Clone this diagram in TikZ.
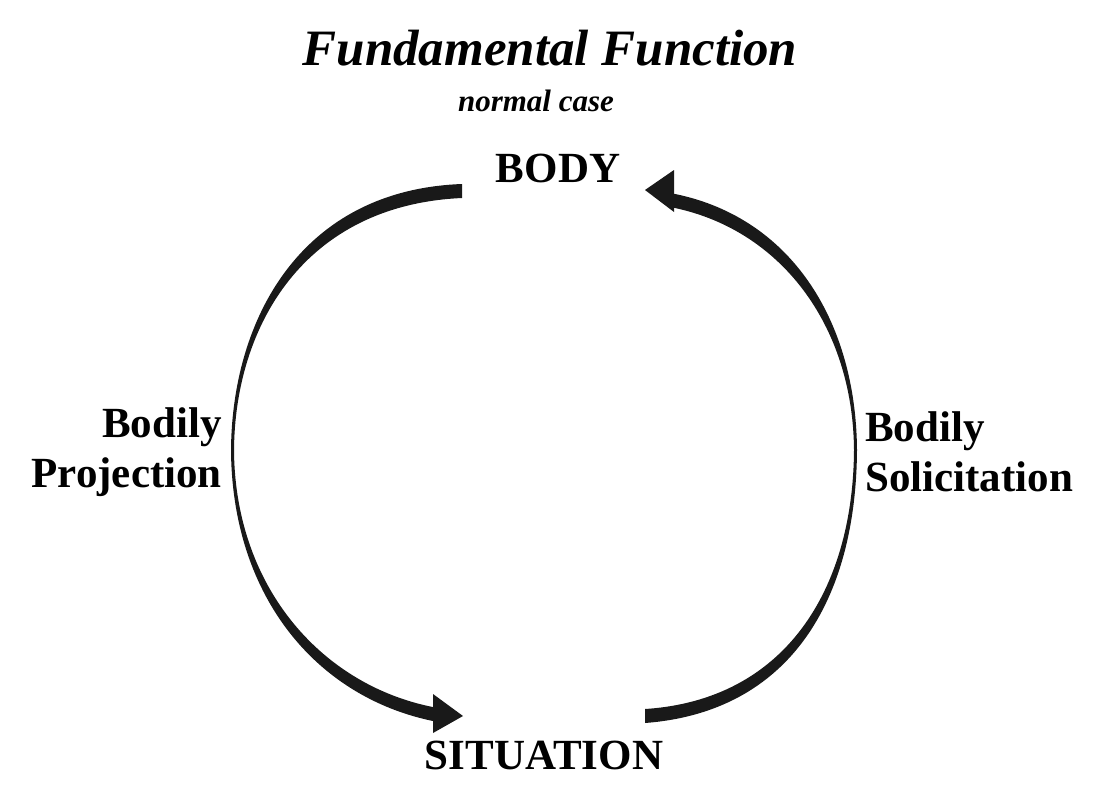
\documentclass[tikz,border=0pt]{standalone}
\usepackage{fontspec}
\setmainfont{Liberation Serif}
\usetikzlibrary{positioning}
\tikzset{
  lbl/.style={font=\bfseries\fontsize{43}{50}\selectfont, inner sep=0pt},
  pole/.style={font=\bfseries\fontsize{43}{46}\selectfont, inner sep=0pt},
  arc/.style={fill=black!90, draw=none}
}
\begin{document}
\begin{tikzpicture}[x=1pt,y=-1pt]
\useasboundingbox (0,0) rectangle (1119,787);
\node[font=\bfseries\itshape\fontsize{51}{54}\selectfont, inner sep=0pt] (Title) at (550,48) {Fundamental Function};
\node[font=\bfseries\itshape\fontsize{31}{34}\selectfont, inner sep=0pt] (Sub) at (536,101) {normal case};
\node[pole] (Body) at (558,168) {BODY};
\node[pole] (Sit) at (544,755) {SITUATION};
\node[lbl, align=right, anchor=east] (Proj) at (222,452) {Bodily\\Projection};
\node[lbl, align=left, anchor=west] (Soli) at (865,452) {Bodily\\Solicitation};

% left arc, body to situation
\fill[arc] (462,184) .. controls (300,190) and (232,320) .. (231,450)
  .. controls (232,600) and (320,700) .. (438,722) -- (438,708)
  .. controls (325,688) and (235,590) .. (234,450)
  .. controls (235,325) and (305,205) .. (462,198) -- cycle;
\fill[arc] (433,694) -- (463,716) -- (433,733) -- cycle;

% right arc, situation to body
\fill[arc] (645,723) .. controls (790,712) and (856,600) .. (857,450)
  .. controls (856,320) and (790,215) .. (670,193) -- (670,207)
  .. controls (780,228) and (853,325) .. (854,450)
  .. controls (853,590) and (785,700) .. (645,709) -- cycle;
\fill[arc] (674,170) -- (645,190) -- (674,212) -- cycle;
\end{tikzpicture}
\end{document}
